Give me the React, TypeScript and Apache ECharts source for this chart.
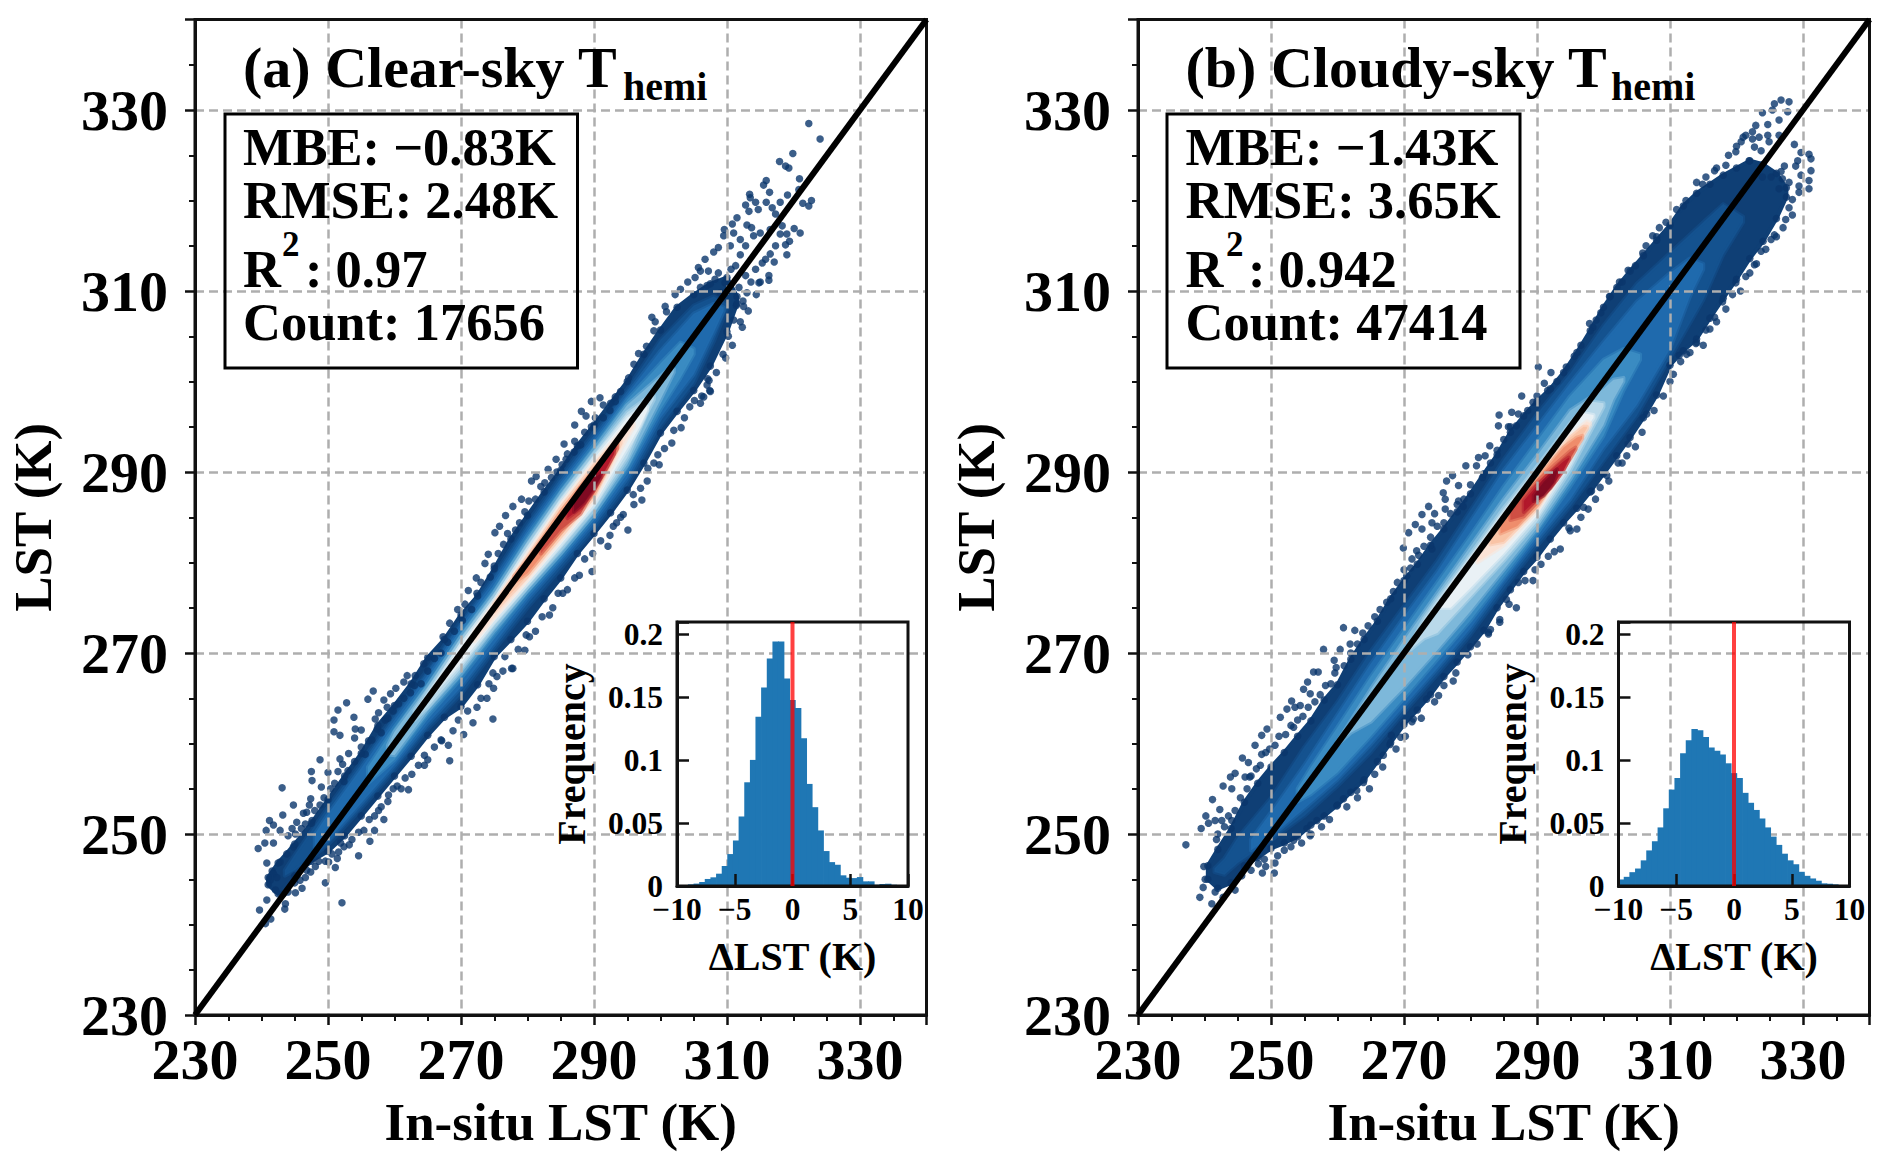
import React, { useEffect, useRef } from "react";
import * as echarts from "echarts";

const FONT = "'Liberation Serif', 'Times New Roman', serif";

const majorTicks = [230, 250, 270, 290, 310, 330];
const histCenters = [-9.76, -9.27, -8.78, -8.29, -7.8, -7.32, -6.83, -6.34, -5.85, -5.37, -4.88, -4.39, -3.9, -3.41, -2.93, -2.44, -1.95, -1.46, -0.98, -0.49, 0, 0.49, 0.98, 1.46, 1.95, 2.44, 2.93, 3.41, 3.9, 4.39, 4.88, 5.37, 5.85, 6.34, 6.83, 7.32, 7.8, 8.29, 8.78, 9.27, 9.76];
const histClear = [0.0005, 0.0008, 0.0013, 0.0019, 0.0032, 0.0056, 0.0069, 0.0098, 0.0159, 0.0254, 0.0362, 0.0553, 0.0825, 0.1003, 0.1347, 0.1579, 0.181, 0.1944, 0.1944, 0.165, 0.148, 0.1415, 0.1175, 0.0812, 0.0627, 0.0442, 0.0278, 0.019, 0.0169, 0.0085, 0.0066, 0.0063, 0.0071, 0.0037, 0.0037, 0.001, 0.0016, 0.0018, 0.001, 0.0003, 0.0003];
const histCloudy = [0.0052, 0.0073, 0.011, 0.0139, 0.0204, 0.0283, 0.0356, 0.0466, 0.0618, 0.0767, 0.0859, 0.1055, 0.116, 0.1249, 0.1238, 0.1186, 0.1102, 0.1076, 0.1047, 0.0976, 0.0898, 0.0859, 0.0741, 0.0662, 0.0605, 0.0537, 0.0466, 0.0393, 0.0327, 0.0257, 0.0204, 0.0173, 0.0113, 0.0081, 0.006, 0.0042, 0.0021, 0.0018, 0.0013, 0.0008, 0.0005];

const densityColors = ["#0f3f75", "#14528f", "#1f6aad", "#3a8bc2", "#7db8da", "#b9d9ea", "#e9f1f5", "#fbe3d6", "#f9c4a6", "#ef8d6c", "#cf4f44", "#b2182b", "#7f0a22"];

// density bands: [in-situ LST, upper LST, lower LST]
const clearBand0 = [[241, 245.2, 244.4], [242.5, 246.8, 243.4], [245, 248.9, 245.4], [247.5, 251.2, 247], [250, 253.8, 248.1], [252.5, 256.4, 249.8], [255, 258.9, 252], [257.5, 262, 254.2], [260, 264.2, 256.4], [262.5, 266.6, 258.6], [265, 269.5, 260.9], [267.5, 271.5, 262.9], [270, 274.2, 264.1], [272.5, 276.3, 266.5], [275, 279.3, 269.6], [277.5, 282.6, 271.5], [280, 285.2, 273.5], [282.5, 287.8, 276], [285, 290.2, 278.3], [287.5, 292.9, 281], [290, 295.2, 283.2], [292.5, 297.6, 285.5], [295, 300, 288], [297.5, 303, 291], [300, 305.7, 294.3], [302.5, 308.2, 296.7], [305, 309.6, 299], [307.5, 310.8, 301.7], [310, 311.5, 305.5], [311.5, 309.4, 308.6]];
const clearBand1 = [[243.5, 246, 245.4], [245, 247.7, 246], [250, 253, 248.8], [255, 258, 252.8], [260, 263.3, 257], [265, 268.2, 261.6], [270, 273.6, 265.4], [275, 278.7, 270.3], [280, 284.4, 275], [285, 289.6, 279.3], [290, 294.4, 283.6], [295, 299.2, 288.5], [300, 304.6, 295], [305, 308.4, 299.8], [308, 309.4, 304.4], [310, 308.6, 308]];
const clearBand2 = [[248, 250, 248.5], [250, 252.2, 249.3], [255, 257.3, 253.4], [260, 262.6, 257.6], [265, 267.6, 262.2], [270, 273, 266.2], [275, 278, 271], [280, 283.7, 275.8], [285, 288.9, 280], [290, 293.7, 284.3], [295, 298.6, 289.3], [300, 303.4, 296], [305, 307.5, 300.8], [308, 308.6, 305.4], [309.5, 308.2, 307.8]];
const clearBand3 = [[256, 257.4, 255.6], [260, 261.8, 258.2], [265, 266.8, 263], [270, 272.3, 267.2], [275, 277.2, 271.9], [280, 283, 276.5], [285, 288.2, 280.6], [290, 293, 285], [295, 298, 290.2], [300, 302, 296.9], [303, 304.3, 300.4], [305, 303.6, 303]];
const clearBand4 = [[259, 259.8, 258.8], [260, 261.3, 258.7], [265, 266.3, 263.6], [270, 271.8, 267.7], [275, 276.7, 272.5], [280, 282.4, 276.9], [285, 287.7, 281], [290, 292.5, 285.4], [295, 297.4, 290.8], [300, 300.6, 298], [301, 301.2, 299.5], [302, 301.4, 301]];
const clearBand5 = [[263, 263.6, 262.6], [265, 265.8, 264], [270, 271.3, 268.3], [275, 276.2, 273], [280, 281.9, 277.3], [285, 287.2, 281.5], [290, 292, 285.9], [295, 296.6, 291.6], [298, 298.2, 296.6], [299, 298.4, 298]];
const clearBand6 = [[266, 266.3, 265.7], [270, 270.9, 268.9], [275, 275.8, 273.5], [280, 281.4, 277.7], [285, 286.7, 282], [290, 291.5, 286.4], [295, 296, 292.6], [297, 297, 295.2], [298, 297.2, 296.8]];
const clearBand7 = [[272, 272.3, 271.3], [275, 275.6, 273.9], [280, 281, 278.1], [285, 286.4, 282.5], [290, 291.1, 286.9], [295, 295.2, 293.8], [296, 295.4, 295]];
const clearBand8 = [[275, 275.4, 274.6], [280, 280.6, 278.5], [285, 286, 282.9], [290, 290.7, 287.3], [294, 294, 293.2]];
const clearBand9 = [[278, 278.5, 277.8], [280, 280.3, 278.8], [285, 285.6, 283.3], [290, 290.3, 287.6], [292.5, 292.5, 291.2], [293.5, 293, 292.7]];
const clearBand10 = [[282, 282, 281], [285, 285, 283.6], [288, 288.3, 285.4], [290, 289.9, 288], [293.5, 293.3, 292.6]];
const clearBand11 = [[286, 285.9, 284.9], [288, 288, 286], [290, 289.8, 288], [292, 291.8, 290.6], [293, 292.6, 292]];
const clearBand12 = [[287, 286.7, 285.6], [288.5, 288.2, 286.6], [290, 289.4, 288.2], [291, 289.8, 289.4]];
const clearBands = [clearBand0, clearBand1, clearBand2, clearBand3, clearBand4, clearBand5, clearBand6, clearBand7, clearBand8, clearBand9, clearBand10, clearBand11, clearBand12];

const cloudyBand0 = [[240.5, 246.5, 245], [242, 248.3, 244], [244, 250.6, 244.6], [246, 253.5, 246.5], [248, 255.6, 247.4], [250, 257.4, 248.4], [252, 259, 249], [254, 260.8, 249.7], [256, 262.5, 251], [258, 264.8, 252], [260, 266.5, 253.2], [262, 269.3, 254.6], [264, 271.5, 256], [266, 273.5, 258], [268, 276, 260.1], [270, 278, 262.1], [272, 279.8, 263.7], [274, 281.9, 265.4], [276, 283.7, 267.4], [278, 285.6, 269], [280, 287.6, 270.7], [282, 289.8, 272.5], [284, 291.9, 275], [286, 294.4, 277], [288, 296.2, 279], [290, 297.8, 280.6], [292, 299.2, 282.6], [294, 301, 284.4], [296, 303.2, 286], [298, 305.6, 287.8], [300, 308.2, 289.8], [302, 310.4, 291.8], [304, 312.2, 293.8], [306, 313.9, 296], [308, 315.6, 298.5], [310, 317.3, 301.8], [312, 319.4, 303.4], [314, 320.8, 304.7], [316, 321.8, 307], [318, 322.8, 309.2], [320, 323.6, 311.3], [322, 324.4, 313.6], [324, 324, 315.5], [326, 323, 318], [327.5, 321.4, 320.4]];
const cloudyBand1 = [[241.5, 246.2, 245.8], [243, 247.3, 245.5], [245, 249.6, 246.8], [250, 254, 249.3], [255, 259.6, 252], [260, 264.6, 255.3], [265, 270.2, 259], [270, 275.2, 263.4], [275, 280.2, 267.6], [280, 285.8, 272], [285, 291.4, 277], [290, 296.4, 281.8], [295, 300.9, 286.2], [300, 306.2, 291.2], [305, 310.8, 296.2], [310, 314.2, 302.6], [315, 317.6, 309], [318, 319.6, 314], [321, 318.2, 317.6]];
const cloudyBand2 = [[247, 249.4, 248.2], [250, 252.4, 249.7], [255, 257.6, 252.8], [260, 263.2, 256], [265, 268.8, 259.9], [270, 274, 264.1], [275, 279, 268.3], [280, 284.6, 272.7], [285, 290.2, 277.8], [290, 295, 282.5], [295, 299.8, 287], [300, 304.4, 292.6], [305, 308.8, 297.4], [310, 312, 303.6], [313, 313.6, 309.4], [315, 313, 312.4]];
const cloudyBand3 = [[254, 255, 253.6], [256, 257.4, 254.4], [260, 261.8, 256.8], [265, 267.4, 260.8], [270, 272.6, 265], [275, 277.8, 269.3], [280, 283, 273.6], [285, 288.4, 278.4], [290, 293.4, 283.2], [295, 298.4, 288.4], [300, 302.4, 294], [303, 303.6, 299], [305.5, 303, 302.4]];
const cloudyBand4 = [[260, 260.2, 259.9], [262, 262.5, 261.2], [265, 266, 262.4], [270, 271.4, 266.2], [275, 276.6, 270.3], [280, 281.8, 274.6], [285, 287, 279.2], [290, 291.8, 283.8], [295, 296.8, 289.2], [300, 299.2, 295.2], [301.5, 300.2, 298], [303, 300.4, 300]];
const cloudyBand5 = [[271, 271, 270.4], [273, 273.8, 271.6], [275, 275.9, 272.2], [280, 280.9, 276.2], [285, 286, 280.2], [290, 290.6, 284.5], [295, 295.4, 290.2], [298, 297.8, 294.4], [300, 297.6, 297.2]];
const cloudyBand6 = [[275.5, 275.4, 275], [277, 277.4, 275], [280, 280.3, 277.2], [285, 285.4, 281], [290, 290, 285.2], [295, 294.8, 291], [297, 296.5, 294.4], [298.5, 296.3, 296]];
const cloudyBand7 = [[281, 281.2, 280], [285, 284.9, 281.9], [290, 289.7, 285.7], [295, 294.1, 291.4], [297.5, 295.6, 294.6], [298, 295.4, 295.2]];
const cloudyBand8 = [[283, 283, 282], [285, 284.6, 282.3], [290, 289.5, 286], [295, 293.8, 291.8], [297, 295, 294.2], [297.5, 295, 294.8]];
const cloudyBand9 = [[284.5, 284.2, 283.2], [287, 286.8, 284], [290, 289.2, 286.3], [294, 292.7, 290.4], [296, 293.8, 292.8], [296.8, 294, 293.7]];
const cloudyBand10 = [[286, 285.6, 284.7], [288, 287.6, 285.1], [290, 288.9, 286.7], [293, 291, 289.2], [295, 292.3, 291.5], [295.8, 292.7, 292.5]];
const cloudyBand11 = [[288, 286.8, 285.6], [290, 288.5, 287], [292, 289.9, 288.2], [294, 291.2, 290.2], [294.8, 291.6, 291.4]];
const cloudyBand12 = [[289.5, 287.4, 286.8], [291, 288.9, 287.4], [292.5, 290, 288.8], [293, 290.3, 289.9]];
const cloudyBands = [cloudyBand0, cloudyBand1, cloudyBand2, cloudyBand3, cloudyBand4, cloudyBand5, cloudyBand6, cloudyBand7, cloudyBand8, cloudyBand9, cloudyBand10, cloudyBand11, cloudyBand12];

const clearFringe = [[243.1, 255.1], [239.5, 248.4], [240.5, 249], [241.8, 249], [240.7, 250.4], [241.2, 251.5], [241.8, 251], [243.2, 252.1], [244.8, 253.2], [246.3, 252.3], [245.3, 251.3], [242.8, 250.4], [240.8, 246.8], [241.6, 245.9], [241.3, 244.9], [242.1, 243.8], [240.8, 242.7], [239.7, 241.6], [241.4, 240.6], [240.6, 240.1], [243.5, 241.7], [246.1, 244], [245.1, 243.5], [249.6, 244.6], [252.1, 242.4], [251.1, 246.3], [251.4, 247.3], [250.1, 246.9], [254.6, 247.6], [253.2, 248.8], [251.9, 249], [256.3, 249.2], [257, 250.4], [258.4, 251.6], [257.6, 252.6], [259.1, 254.3], [262.1, 254.9], [260.4, 255.3], [264.5, 257.6], [264.5, 258.7], [268.3, 258.1], [268.1, 259.8], [267.1, 260.3], [270.4, 261], [271.8, 262.3], [274.8, 262.7], [273.9, 265], [274.9, 266.1], [277.8, 268.3], [276.3, 268],
  [242.8, 246.9], [241.8, 245.6], [242.3, 245.2], [243.3, 243.4], [243.6, 242.3], [245.8, 244.9], [246.8, 246], [248.1, 246.4], [245.1, 250], [246.6, 251.1], [247.6, 251.5], [244.8, 248.6], [243.8, 247.8],
  [247.5, 256.9], [247.6, 255.9], [248.8, 258.2], [250, 256.8], [249, 255.2], [247.4, 253.9], [247.2, 253.2], [248.8, 253.2], [251.5, 256.9], [251.8, 258.3], [252.2, 257.7], [250.9, 261.3], [251.8, 260.9], [250.9, 262.6], [251.5, 263.7], [252.8, 264.5], [253.9, 262.9], [254.1, 261.6], [254, 260.6], [253.1, 258.9], [255, 261.5], [256.1, 260.3], [257.1, 262.7], [257.6, 263.4], [256, 264.9], [256.8, 265.8], [258.4, 264.8], [259.4, 265.5], [260.2, 266.1], [261.4, 266.8], [261.9, 267.5], [263.1, 267.5], [258.9, 264], [258.6, 262.6],
  [271.1, 276.9], [269.5, 274.8], [268.3, 273.3], [267.3, 271.8], [272.3, 278.3], [273.6, 279.9], [274.1, 280.9], [275.1, 283.3], [275.8, 284], [276.7, 285.2], [277.8, 286.2], [279.1, 287], [280.6, 289], [281.3, 289.5], [283.1, 290.3], [284.3, 291.4], [285.8, 291.4], [287.1, 295.2], [288.1, 296.7], [288.8, 296.2], [289.6, 297.8], [290.9, 298.2], [291.4, 297.4], [285.5, 293.1], [287.1, 293.4],
  [277.6, 268.3], [274.8, 267.8], [280.3, 271.8], [279.6, 270.3], [283.3, 274.2], [285.3, 276.6], [287.1, 278.3], [289.7, 279], [292.1, 281.8], [295.1, 283.6], [292.9, 284], [297.2, 286.9], [295.9, 287.5], [294.4, 285.3], [298.1, 290.4], [299.8, 290.8], [299.6, 291.9], [301.7, 293.2], [303.1, 294.9], [305.1, 297.9], [306.5, 298.3], [307.5, 298.9], [307.3, 300.1],
  [322.3, 328.5], [324, 326.8], [319.9, 325.2], [317.9, 324.3], [318.8, 323.8], [319.3, 323.6], [320.9, 322.4], [315.9, 322.2], [315.5, 321.7], [316.4, 320.9], [313.4, 320.7], [313.5, 320.3], [319.1, 320.6], [320.8, 321.2], [322.7, 320], [321.4, 319.7], [322.3, 319.4], [314.3, 319.8], [312.8, 319.5], [315.9, 319.8], [314.7, 319], [313.3, 318.8], [318, 319.8], [316.8, 319.2], [317.3, 318.5], [311.5, 318.1], [313, 317.3], [310.8, 317.4], [309.6, 316.8], [309.5, 316.1], [311, 316.4], [313.7, 317], [314, 316.1], [315, 316.4], [316.5, 316.8], [318.3, 317.2], [320.1, 316.9], [321, 316.4], [319, 316.3], [318, 316.3], [319.4, 315.5], [318.8, 315.1], [317.3, 315], [319, 314], [316.5, 314.1], [317.1, 313.2], [315.8, 313.5], [312, 315.7], [312.8, 315], [310.5, 315], [312, 314], [308.7, 314.8], [308, 314.3], [306.7, 313.5], [305.7, 312.6], [306, 312.2], [305.2, 311.5], [304.1, 311], [308.2, 311.3], [309.7, 310.9], [307.2, 312.2], [308.7, 312], [311.3, 312.8], [314.3, 312.4], [315.3, 313.1], [316.3, 311.7], [316.3, 311.2], [314.8, 310.9], [312.8, 311.7], [312.3, 306], [309.8, 302.6], [307.4, 299], [306.2, 298.4], [307.1, 300.3], [312.5, 308.3], [303, 310.2], [302.2, 309.6], [300.7, 308.3], [300.9, 307.7], [298.7, 307.1], [299.2, 306.6], [299, 305.6], [297.9, 303.9], [296.7, 303.1], [296, 301.9], [295.2, 300.4], [294, 298.9], [293.2, 298.3],
  [310.6, 312.4], [311.8, 310.4], [313, 309.8], [313.6, 311], [312.4, 308.9], [311, 306.8], [310.2, 305], [311.4, 308.4], [309, 309.8], [310, 310], [307, 310.6], [306, 310.4]];
const clearUpperEdge = [[244, 249.8], [244.6, 250.6], [246, 250.6], [246.8, 252.4], [248, 252.6], [249.4, 254], [250.4, 255], [251, 255.6], [252.4, 255.8], [253, 257], [254, 258], [255, 259.6], [255.6, 258.8], [256.6, 260.4], [257.4, 261.6], [258, 261.2], [259, 262.8], [259.8, 263.6], [260.6, 264.4], [261.4, 265], [262.4, 265.6], [263, 266.4], [264, 266.6], [265, 268], [264.4, 268.8], [266, 269.4], [267, 270], [268, 271.2], [269, 272.4], [270.2, 273.6], [270.6, 275.4], [271.6, 274.8], [272.4, 276.6], [273, 277.8], [274.4, 278.4], [275, 279.6], [275.6, 281], [276.4, 282], [277, 283.2], [278.2, 283.6], [278.8, 284.4], [279.6, 285.6], [280.2, 286.8], [281.2, 287], [282, 288.4], [282.6, 288.8], [283.6, 289.4], [284.4, 290], [285.2, 290.8], [286, 292], [287, 292.2], [288, 293], [288.6, 294.4], [289.6, 295], [290.2, 296], [291.4, 296], [292.4, 296.8], [293.2, 297.8]];
const clearLowerEdge = [[244, 243.6], [245, 244.6], [246.6, 245.2], [247.4, 245.8], [248.6, 247], [249.6, 247], [250.6, 247.8], [251.6, 248], [252.4, 248.6], [253.6, 249.4], [254.6, 250.2], [255.4, 250.4], [256.2, 251.6], [257, 252], [258, 253], [259, 253.6], [259.8, 255], [261, 255], [261.6, 256.2], [262.6, 256.6], [263.6, 257.6], [265, 258.2], [266, 259.6], [267, 260.4], [268.8, 261.4], [269.6, 262.6], [271, 263.6], [272.4, 264], [273, 265], [274.2, 266.6], [275.4, 267.4], [276.6, 269.6], [278.6, 270.4], [279.8, 272], [281.2, 272.4], [282.2, 274], [283.8, 275], [284.6, 276.6], [286, 277], [287.8, 278.6], [288.6, 280.4], [289.8, 281], [291, 282.4], [292.4, 283], [293.4, 284.4], [294, 285], [296, 286.4], [297, 288.2], [298, 289], [299, 291], [300.6, 292.6], [302, 294.6], [303.6, 296], [304.4, 297.2], [306, 297.6], [307, 299.6], [308.4, 301], [309.4, 303], [310.8, 304], [312, 306.6], [313.2, 307.8], [314.4, 309.6], [315, 311]];

const cloudyFringe = [[237.2, 248.8], [241.2, 253.8], [240.2, 252], [239.5, 250.6], [240.6, 251.2], [241.6, 251.5], [242.3, 252.7], [242.8, 255.3], [244.1, 255], [243.9, 256.3], [244.6, 256.7], [245.7, 258.4], [246.6, 257.9], [246.1, 256.3], [246.8, 256.3], [242.6, 251.5], [244.1, 251.5], [241.8, 249.4], [239.9, 246.4], [240.1, 245], [239.3, 243], [241.1, 242.3], [239.8, 244.1], [248.6, 260.9], [247.6, 259.8], [249.4, 261.6], [248.6, 258.8], [251.4, 262.9], [252.4, 263.8], [253.1, 264.7], [253.6, 264], [254.4, 264.2], [255.5, 266.8], [256.4, 267.9], [257.1, 267.9], [257.9, 270.4], [259.6, 267.8], [260.4, 270.4], [259.5, 269.2], [260.9, 272.8], [261.9, 271], [262.6, 272.5], [255.9, 265.5], [254.9, 266], [253.4, 261.8], [250.6, 246.8], [250.5, 245.7], [249.2, 246.4], [248.7, 245.7], [248.1, 246.7], [255.9, 249.8], [253.4, 249.3], [269.5, 260.7], [268.1, 260.9], [275.2, 265.3], [277.4, 266.9], [273.4, 264.9], [282.7, 272.1], [284.4, 273.4], [271.4, 262.7], [267.9, 259.9], [266.9, 258.7], [263.9, 255.7], [262.9, 254.8], [260.9, 253.9], [259.9, 253.1], [256.9, 251.5], [255.4, 250.6],
  [290.2, 301.6], [292.1, 301], [291.1, 299.8], [287.7, 298.4], [289.4, 297.7], [284.3, 296.3], [286.2, 296.6], [284.2, 295.1], [285.7, 295], [286.9, 295.1], [282.9, 292.9], [282.2, 291.8], [281.2, 291.6], [279.3, 290.7], [280.9, 290.7], [277.3, 289.6], [276.4, 289], [278.2, 288.5], [275.9, 287.7], [276.2, 287], [278.2, 286.8], [278.9, 286.2], [273.7, 286.2], [272.7, 285.3], [274.6, 285.4], [276.2, 285.9], [271.7, 284.2], [272.7, 283.7], [274.2, 284.4], [270.7, 283.3], [269.9, 281.6], [271.9, 281.3], [271.2, 280.4], [274.2, 281.5], [270.4, 278.5],
  [286.9, 275], [284.4, 273.7], [282.7, 272.3], [285.4, 275.9], [287.2, 277.8], [289.7, 279.2], [289.4, 278], [291.7, 280.7], [293.5, 281.5], [296, 283.7], [295, 283.5], [297.7, 285.9], [297, 286.1], [298.2, 287.9], [299.5, 288.3], [300.5, 289.6], [302.2, 291], [303.5, 291.8], [303.7, 293.1], [306.5, 296.4], [310.5, 300.8], [312.5, 303], [314, 304.3],
  [326.7, 331.1], [325.7, 330.7], [327.9, 330.9], [323.9, 329.7], [325.4, 330], [327.7, 329.8], [326.4, 328.9], [324.7, 328.4], [322.9, 328.3], [322.4, 327.6], [321.4, 327.2], [322.4, 326.8], [323.4, 327], [324.7, 327.2], [326.4, 327.2], [324.9, 326.5], [320.7, 326.5], [322.7, 325.9], [328.7, 326.2], [329.7, 325.3], [330.9, 325.1], [331.2, 324.6], [329.2, 324.4], [328.9, 323.8], [331.2, 323.3], [327.2, 323.8], [326.7, 323.2], [329.7, 322.8], [330.9, 322.2], [330.9, 321.3], [325.2, 322.6], [323.9, 322.6], [326.9, 322.4], [327.9, 322], [329.4, 321.6], [326.4, 321.3], [319.9, 325.4], [323.7, 325.5], [321.9, 324.4], [318.4, 323.9], [316.7, 323.3], [314.9, 321.8], [329.4, 320.9], [328.4, 320.1], [327.9, 319.2], [327.4, 317.9], [325.7, 316.2], [325.2, 315.7], [323.7, 314.4], [322.7, 312.9], [321.4, 311.6], [319.9, 310.9], [317.9, 308.8], [316.7, 307.1], [315.4, 305.7], [313.9, 304.2], [311.4, 302.9], [308.4, 317], [307.4, 316.1], [305.9, 314.2], [303.7, 312.3], [302.4, 311], [300.9, 309.4], [298.9, 306.8], [297.9, 306.4]];
const cloudyUpperEdge = [[242, 250], [243, 250.8], [243.6, 252], [244.6, 252.6], [245.4, 254], [246.4, 255], [247, 256.4], [247.8, 257.2], [248.4, 257.6], [249.2, 259], [249.8, 259.4], [250.6, 259.8], [251.2, 260.8], [252.2, 261], [253, 262], [254, 262.6], [254.8, 263], [255.6, 264], [256.6, 264.6], [257.4, 265.4], [258.2, 266.4], [259, 266.6], [259.8, 268.4], [261, 268.6], [262, 270], [263, 271], [263.8, 272.2], [264.6, 273], [265.6, 274], [266.4, 274.8], [267.4, 275.6], [268.4, 276.8], [269, 277.8], [270, 279.2], [271, 279.4], [272.2, 280.8], [273, 281.8], [274, 282.8], [275, 284], [276, 284.4], [277, 285.4], [278, 286.4], [279, 287], [280, 288.6], [281.8, 289.4], [283, 291], [284, 292.4], [285, 293.6], [286, 295], [287.2, 296.4], [288.6, 296.8], [290, 298.4], [291.6, 299], [293, 300], [294.4, 301.6], [295.6, 302.8], [296.6, 304], [298.4, 306], [299.6, 307.6], [301, 309.4], [302.8, 311], [304.8, 312.8], [306.4, 315], [308, 316], [309.4, 317.6], [311, 319], [312.4, 320], [314, 322], [315.4, 322.6], [317, 323.6], [318.8, 325], [320, 326], [321, 327]];
const cloudyLowerEdge = [[241.6, 243.6], [242.8, 243], [244.6, 243.8], [245.6, 245.4], [247, 246], [249, 247.2], [251, 247.6], [252, 248.2], [253, 248.6], [254.6, 249], [256, 250], [257.6, 250.8], [258.8, 251.6], [261.4, 253], [263, 254], [264.8, 255], [265.6, 256.6], [266.8, 257.4], [268.8, 259.4], [270.2, 260.8], [271.2, 262.4], [272.6, 262.8], [274.6, 264.6], [276, 266.4], [277.8, 267.8], [279.6, 269.8], [281, 271], [283, 272.6], [285.8, 275.4], [288.2, 278], [290.6, 279.8], [292.6, 281.2], [294.8, 283.8], [296.6, 285], [298.8, 287], [300.8, 289], [302.8, 291], [304.8, 292.8], [305.8, 294.4], [307.6, 296.8], [309, 298.4], [310, 300], [311.6, 302.2], [313, 303.2], [315, 304], [316, 305.8], [317, 306.6], [318.4, 308], [319.4, 309.6], [320.6, 310], [322, 312], [323, 313], [324.4, 314.6], [326, 316], [327, 317], [328.4, 318.4]];

const oneToOne = [[230, 230], [340, 340]];
const zeroLine = [[0, 0], [0, 0.21]];

const panelA = { title: "(a) Clear-sky T", stats: ["MBE: \u22120.83K", "RMSE: 2.48K", ": 0.97", "Count: 17656"] };
const panelB = { title: "(b) Cloudy-sky T", stats: ["MBE: \u22121.43K", "RMSE: 3.65K", ": 0.942", "Count: 47414"] };

const BLACK = "#111";

function softStroke(hex: string) {
  const n = parseInt(hex.slice(1), 16);
  return `rgba(${(n >> 16) & 255},${(n >> 8) & 255},${n & 255},0.5)`;
}

function mainAxes(gridIndex: number) {
  const common = {
    type: "value", gridIndex, min: 230, max: 340, interval: 20, z: 3,
    axisLine: { show: true, onZero: false, lineStyle: { color: BLACK, width: 3 } },
    axisTick: { show: true, length: 10, lineStyle: { color: BLACK, width: 2.5 } },
    minorTick: { show: true, splitNumber: 4, length: 6, lineStyle: { color: BLACK, width: 2 } },
    splitLine: { show: true, showMinLine: false, showMaxLine: false, lineStyle: { type: [9, 5], color: "#aeaeae", width: 2.5 } },
    nameLocation: "middle",
    nameTextStyle: { fontFamily: FONT, fontWeight: "bold", fontSize: 53, color: "#000" },
  };
  const label = {
    show: true, fontFamily: FONT, fontWeight: "bold", fontSize: 58, color: "#000",
    formatter: (v: number) => (majorTicks.includes(v) ? String(v) : ""),
  };
  return {
    x: { ...common, name: "In-situ LST (K)", nameGap: 80, axisLabel: { ...label, margin: 15 } },
    y: { ...common, name: "LST (K)", nameGap: 136, axisLabel: { ...label, margin: 27 } },
  };
}

function insetAxes(gridIndex: number) {
  const common = {
    type: "value", gridIndex, z: 7,
    axisLine: { show: true, onZero: false, lineStyle: { color: BLACK, width: 3 } },
    axisTick: { show: true, inside: true, length: 12, lineStyle: { color: BLACK, width: 2.5 } },
    splitLine: { show: false },
    nameLocation: "middle",
    nameTextStyle: { fontFamily: FONT, fontWeight: "bold", fontSize: 40, color: "#000" },
  };
  const label = { show: true, fontFamily: FONT, fontWeight: "bold", fontSize: 31.5, color: "#000" };
  return {
    x: {
      ...common, min: -10, max: 10, interval: 5, name: "\u0394LST (K)", nameGap: 50,
      axisLabel: { ...label, margin: 7, formatter: (v: number) => String(v).replace("-", "\u2212") },
    },
    y: {
      ...common, min: 0, max: 0.21, interval: 0.05, name: "Frequency", nameGap: 86,
      axisLabel: { ...label, margin: 14, formatter: (v: number) => (v > 0.205 ? "" : String(v)) },
    },
  };
}

function cloudSeries(bands: number[][][], axisIndex: number) {
  return {
    type: "custom", xAxisIndex: axisIndex, yAxisIndex: axisIndex, z: 2, silent: true, clip: false,
    data: bands.map((band) => [band[0][0], band[0][1]]),
    renderItem: (params: any, api: any) => {
      const band = bands[params.dataIndex];
      const upper = band.map((r) => api.coord([r[0], r[1]]));
      const lower = band.map((r) => api.coord([r[0], r[2]])).reverse();
      const color = densityColors[params.dataIndex];
      return {
        type: "polygon",
        shape: { points: upper.concat(lower) },
        style: { fill: color, stroke: params.dataIndex === 0 ? color : softStroke(color), lineWidth: 4, lineJoin: "round" },
      };
    },
  };
}

function dotSeries(points: number[][], band: number[][], axisIndex: number) {
  const edge: number[][] = [];
  band.forEach((r) => { edge.push([r[0], r[1]]); edge.push([r[0], r[2]]); });
  return {
    type: "scatter", xAxisIndex: axisIndex, yAxisIndex: axisIndex, z: 2, silent: true,
    symbol: "circle", symbolSize: 7.5, itemStyle: { color: "#0a366b" },
    data: points.concat(edge),
  };
}

function textAt(text: string, x: number, baseline: number, fontSize: number) {
  return {
    type: "text", x, y: baseline - 0.34 * fontSize, z: 20, silent: true,
    style: { text, fontFamily: FONT, fontWeight: "bold", fontSize, fill: "#000", align: "left", verticalAlign: "middle" },
  };
}

function panelGraphics(p: typeof panelA, textLeft: number, hemiX: number, boxLeft: number, boxRight: number, supX: number, colonX: number) {
  return [
    textAt(p.title, textLeft, 87, 58),
    textAt("hemi", hemiX, 100, 40),
    { type: "rect", z: 20, silent: true, shape: { x: boxLeft, y: 114, width: boxRight - boxLeft, height: 254 }, style: { fill: "none", stroke: "#000", lineWidth: 3 } },
    textAt(p.stats[0], textLeft, 165, 52.5),
    textAt(p.stats[1], textLeft, 217.5, 52.5),
    textAt("R", textLeft, 287, 52.5),
    textAt("2", supX, 256, 35),
    textAt(p.stats[2], colonX, 287, 52.5),
    textAt(p.stats[3], textLeft, 340, 52.5),
  ];
}

function buildOption() {
  const ma = mainAxes(0), mb = mainAxes(1), ia = insetAxes(2), ib = insetAxes(3);
  const frame = { show: true, backgroundColor: "transparent", borderColor: BLACK, borderWidth: 3, z: 4, outerBoundsMode: "none" };
  return {
    animation: false,
    backgroundColor: "#fff",
    grid: [
      { left: 195, top: 19.5, width: 731.5, height: 995.5, ...frame },
      { left: 1138, top: 19.5, width: 731.5, height: 995.5, ...frame },
      { left: 677, top: 622, width: 231, height: 264, ...frame, z: 8 },
      { left: 1618.5, top: 622, width: 231, height: 264, ...frame, z: 8 },
    ],
    xAxis: [ma.x, mb.x, ia.x, ib.x],
    yAxis: [ma.y, mb.y, ia.y, ib.y],
    series: [
      dotSeries(clearFringe.concat(clearUpperEdge, clearLowerEdge), clearBand0, 0),
      dotSeries(cloudyFringe.concat(cloudyUpperEdge, cloudyLowerEdge), cloudyBand0, 1),
      cloudSeries(clearBands, 0),
      cloudSeries(cloudyBands, 1),
      { type: "line", xAxisIndex: 0, yAxisIndex: 0, data: oneToOne, z: 5, silent: true, showSymbol: false, symbol: "none", lineStyle: { color: "#000", width: 6 } },
      { type: "line", xAxisIndex: 1, yAxisIndex: 1, data: oneToOne, z: 5, silent: true, showSymbol: false, symbol: "none", lineStyle: { color: "#000", width: 6 } },
      { type: "bar", xAxisIndex: 2, yAxisIndex: 2, z: 6, silent: true, barWidth: 6.4, itemStyle: { color: "#1f77b4" }, data: histCenters.map((c, i) => [c, histClear[i]]) },
      { type: "bar", xAxisIndex: 3, yAxisIndex: 3, z: 6, silent: true, barWidth: 6.4, itemStyle: { color: "#1f77b4" }, data: histCenters.map((c, i) => [c, histCloudy[i]]) },
      { type: "line", xAxisIndex: 2, yAxisIndex: 2, data: zeroLine, z: 8, silent: true, showSymbol: false, symbol: "none", lineStyle: { color: "rgba(255,0,0,0.75)", width: 4 } },
      { type: "line", xAxisIndex: 3, yAxisIndex: 3, data: zeroLine, z: 8, silent: true, showSymbol: false, symbol: "none", lineStyle: { color: "rgba(255,0,0,0.75)", width: 4 } },
    ],
    graphic: [
      ...panelGraphics(panelA, 243, 623, 225, 577.5, 282, 305),
      ...panelGraphics(panelB, 1185.5, 1611, 1167, 1520, 1226, 1248),
    ],
  };
}

export default function App() {
  const ref = useRef<HTMLDivElement>(null);
  useEffect(() => {
    const chart = echarts.init(ref.current as HTMLDivElement, undefined, { renderer: "svg" });
    chart.setOption(buildOption() as any);
    return () => chart.dispose();
  }, []);
  return <div ref={ref} style={{ position: "absolute", left: 0, top: 0, width: 1892, height: 1169, background: "#fff" }} />;
}
